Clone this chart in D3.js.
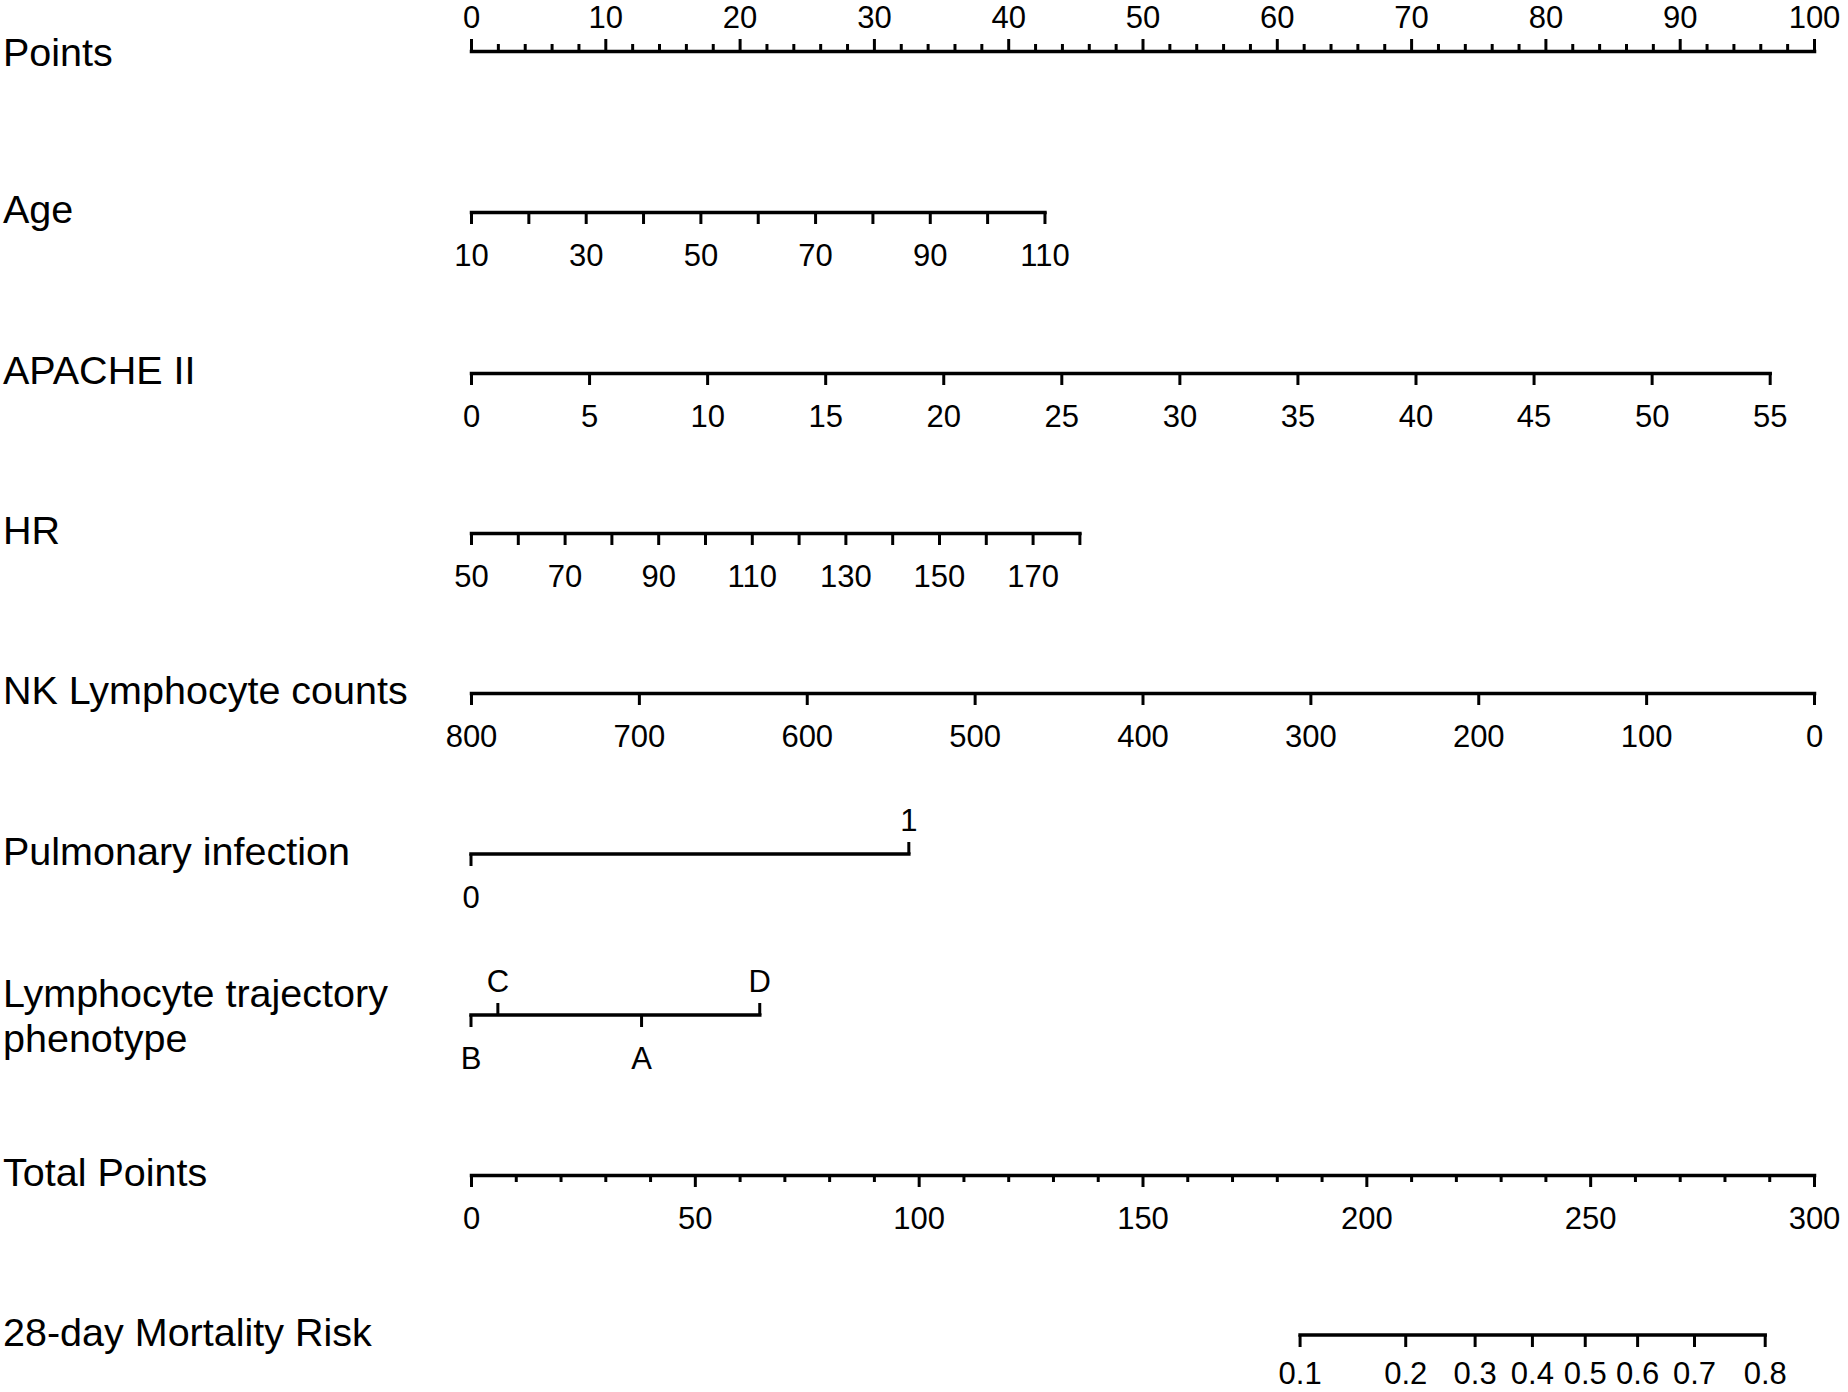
<!DOCTYPE html>
<html>
<head>
<meta charset="utf-8">
<script src="https://cdn.jsdelivr.net/npm/d3@7/dist/d3.min.js"></script>
<style>
  body { margin: 0; background: #fff; }
  text { font-family: "Liberation Sans", Arial, sans-serif; fill: #000; }
</style>
</head>
<body>
<div id="chart"></div>
<script>
// row names, top to bottom
var rowNames = ["Points", "Age", "APACHE II", "HR", "NK Lymphocyte counts",
    "Pulmonary infection", ["Lymphocyte trajectory", "phenotype"], "Total Points",
    "28-day Mortality Risk"];

// points scale
var pointsLabels = [0, 10, 20, 30, 40, 50, 60, 70, 80, 90, 100];

// age: value range and the points at its two ends
var ageDomain = [10, 110];
var agePoints = [0, 42.7];
var ageTicks = [10, 20, 30, 40, 50, 60, 70, 80, 90, 100, 110];
var ageLabels = [10, 30, 50, 70, 90, 110];

var apacheDomain = [0, 55];
var apachePoints = [0, 96.7];
var apacheLabels = [0, 5, 10, 15, 20, 25, 30, 35, 40, 45, 50, 55];

var hrDomain = [50, 180];
var hrPoints = [0, 45.3];
var hrTicks = [50, 60, 70, 80, 90, 100, 110, 120, 130, 140, 150, 160, 170, 180];
var hrLabels = [50, 70, 90, 110, 130, 150, 170];

var nkDomain = [800, 0];
var nkPoints = [0, 100];
var nkLabels = [800, 700, 600, 500, 400, 300, 200, 100, 0];

var pulmCats = ["0", "1"];
var pulmPoints = [0, 32.6];

var lymphCats = ["B", "C", "A", "D"];
var lymphPoints = [0, 2.0, 12.7, 21.5];

var totalDomain = [0, 300];
var totalLabels = [0, 50, 100, 150, 200, 250, 300];

// mortality risk and the total points it sits at
var riskLabels = ["0.1", "0.2", "0.3", "0.4", "0.5", "0.6", "0.7", "0.8"];
var riskAt = [185.2, 208.8, 224.3, 237.1, 248.9, 260.6, 273.3, 289.1];

var width = 1848, height = 1392;
var x0 = 471, x1 = 1814;
var rowY = [51, 212, 373, 533, 693, 854, 1015, 1175, 1335];
var fsLabel = 39.5, fsTick = 31;
var lineW = 3.5, tickW = 3, tickLen = 12, minorLen = 7;

var svg = d3.select("#chart").append("svg")
    .attr("width", width)
    .attr("height", height);

var px = d3.scaleLinear().domain([0, 100]).range([x0, x1]);

// row labels
rowNames.forEach(function(name, i) {
    var t = svg.append("text")
        .attr("x", 3)
        .attr("font-size", fsLabel);
    if (Array.isArray(name)) {
        t.attr("y", rowY[i] - 8);
        name.forEach(function(part, j) {
            t.append("tspan").attr("x", 3).attr("dy", j == 0 ? 0 : 45).text(part);
        });
    } else {
        t.attr("y", rowY[i] + (i == 0 ? 15 : 11)).text(name);
    }
});

function styleAxis(g) {
    g.select(".domain").attr("stroke", "#000").attr("stroke-width", lineW)
        .attr("stroke-linecap", "square");
    g.selectAll(".tick line").attr("stroke", "#000").attr("stroke-width", tickW);
    g.selectAll(".tick text").attr("font-size", fsTick)
        .attr("font-family", '"Liberation Sans", Arial, sans-serif').attr("fill", "#000");
    g.attr("font-family", null).attr("font-size", null);
}

// numeric axis; labelled ticks plus unlabelled minor ticks
function numAxis(y, scale, ticks, labels, above, minor) {
    var g = svg.append("g").attr("transform", "translate(0," + y + ")");
    if (minor) {
        var mg = g.append("g");
        var minorAxis = (above ? d3.axisTop(scale) : d3.axisBottom(scale))
            .tickValues(minor.filter(function(v){ return ticks.indexOf(v) < 0; }))
            .tickSize(minorLen).tickSizeOuter(0).tickFormat("");
        mg.call(minorAxis);
        mg.select(".domain").remove();
        mg.selectAll(".tick line").attr("stroke", "#000").attr("stroke-width", tickW);
    }
    var ax = (above ? d3.axisTop(scale) : d3.axisBottom(scale))
        .tickValues(ticks)
        .tickSize(tickLen)
        .tickSizeOuter(0)
        .tickPadding(above ? 11 : 20)
        .tickFormat(function(v){ return labels.indexOf(v) >= 0 ? v : ""; });
    var ag = g.append("g").call(ax);
    styleAxis(ag);
}

function varScale(domain, pts) {
    return d3.scaleLinear().domain(domain).range(pts.map(px));
}

// Points
numAxis(rowY[0], px, pointsLabels, pointsLabels, true, px.ticks(50));
// Age
numAxis(rowY[1], varScale(ageDomain, agePoints), ageTicks, ageLabels, false);
// APACHE II
numAxis(rowY[2], varScale(apacheDomain, apachePoints), apacheLabels, apacheLabels, false);
// HR
numAxis(rowY[3], varScale(hrDomain, hrPoints), hrTicks, hrLabels, false);
// NK
numAxis(rowY[4], varScale(nkDomain, nkPoints), nkLabels, nkLabels, false);

// categorical rows: labels alternate below / above in points order
function catAxis(y, cats, pts) {
    var g = svg.append("g").attr("transform", "translate(0," + y + ")");
    var data = cats.map(function(c, i){ return {name: c, p: pts[i]}; })
        .sort(function(a, b){ return a.p - b.p; });
    g.append("line")
        .attr("x1", px(d3.min(pts))).attr("x2", px(d3.max(pts)))
        .attr("stroke", "#000").attr("stroke-width", lineW).attr("stroke-linecap", "square");
    var t = g.selectAll("g.cat").data(data).enter().append("g")
        .attr("class", "cat")
        .attr("transform", function(d){ return "translate(" + px(d.p) + ",0)"; });
    t.append("line")
        .attr("y2", function(d, i){ return i % 2 ? -tickLen : tickLen; })
        .attr("stroke", "#000").attr("stroke-width", tickW);
    t.append("text")
        .attr("text-anchor", "middle")
        .attr("font-size", fsTick)
        .attr("y", function(d, i){ return i % 2 ? -23 : 54; })
        .text(function(d){ return d.name; });
}
catAxis(rowY[5], pulmCats, pulmPoints);
catAxis(rowY[6], lymphCats, lymphPoints);

// Total points
var tx = d3.scaleLinear().domain(totalDomain).range([x0, x1]);
numAxis(rowY[7], tx, totalLabels, totalLabels, false, tx.ticks(30));

// Mortality risk, placed on the total points scale
(function() {
    var g = svg.append("g").attr("transform", "translate(0," + rowY[8] + ")");
    var riskX = riskAt.map(tx);
    var rs = d3.scaleOrdinal().domain(riskLabels).range(riskX);
    g.append("line")
        .attr("x1", d3.min(riskX)).attr("x2", d3.max(riskX))
        .attr("stroke", "#000").attr("stroke-width", lineW).attr("stroke-linecap", "square");
    var t = g.selectAll("g.risk").data(riskLabels).enter().append("g")
        .attr("transform", function(d){ return "translate(" + rs(d) + ",0)"; });
    t.append("line").attr("y2", tickLen).attr("stroke", "#000").attr("stroke-width", tickW);
    // kept just inside the bottom edge
    t.append("text")
        .attr("text-anchor", "middle")
        .attr("font-size", fsTick)
        .attr("y", 49)
        .text(function(d){ return d; });
})();
</script>
</body>
</html>
